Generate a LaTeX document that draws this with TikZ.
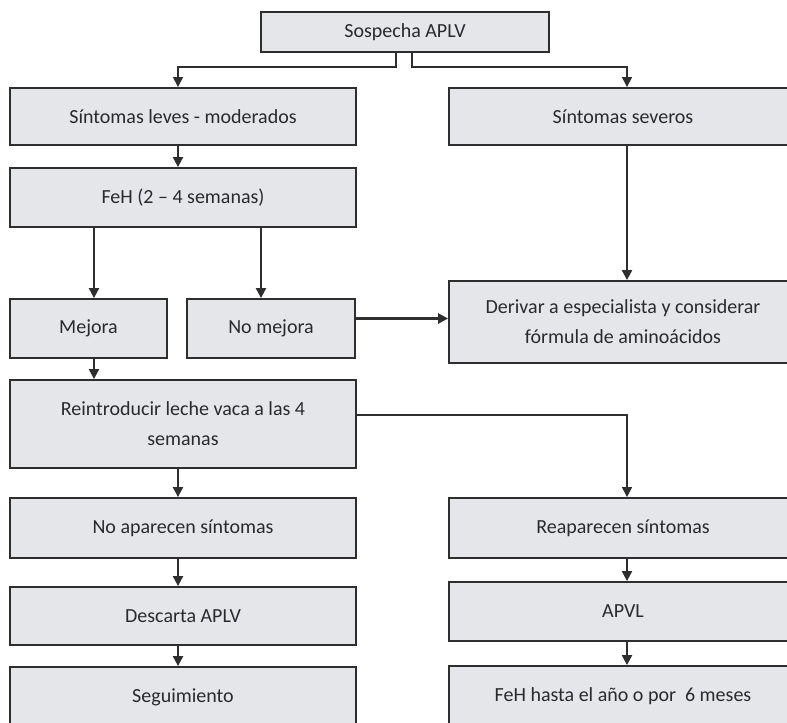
\documentclass[tikz,border=0pt]{standalone}
\usepackage{fontspec}
\setmainfont{Carlito}
\usetikzlibrary{arrows.meta,calc}
\definecolor{boxfill}{HTML}{E4E6E9}
\definecolor{boxline}{HTML}{2E2E2E}
\definecolor{txt}{HTML}{2A2A2A}
\begin{document}
\begin{tikzpicture}[x=0.75pt,y=-0.75pt,
  box/.style={draw=boxline,line width=1.4pt,fill=boxfill,text=txt,align=center,
    inner sep=0pt,font=\fontsize{15pt}{22.5pt}\selectfont},
  arr/.style={draw=boxline,line width=1.6pt,-{Triangle[length=7.5pt,width=7.5pt]}},
  thin arr/.style={draw=boxline,line width=0.9pt,-{Triangle[length=7.5pt,width=7.5pt]}}]
\useasboundingbox (0,0) rectangle (787,722);
\clip (0,0) rectangle (787,722);
\fill[white] (0,0) rectangle (787,722);
% nodes
\node[box,minimum width=288*0.75pt,minimum height=40*0.75pt] (sos) at (405,32) {Sospecha APLV};
\node[box,minimum width=346*0.75pt,minimum height=57*0.75pt] (leves) at (183,116.5) {Síntomas leves - moderados};
\node[box,minimum width=348*0.75pt,minimum height=57*0.75pt] (sev) at (623,116.5) {Síntomas severos};
\node[box,minimum width=346*0.75pt,minimum height=59*0.75pt] (feh) at (183,197.5) {FeH (2 – 4 semanas)};
\node[box,minimum width=157*0.75pt,minimum height=59*0.75pt] (mejora) at (88.5,328.5) {Mejora};
\node[box,minimum width=168*0.75pt,minimum height=59*0.75pt] (nomejora) at (271,328.5) {No mejora};
\node[box,minimum width=348*0.75pt,minimum height=82*0.75pt] (derivar) at (623,322) {Derivar a especialista y considerar\\fórmula de aminoácidos};
\node[box,minimum width=346*0.75pt,minimum height=88*0.75pt] (reint) at (183,424) {Reintroducir leche vaca a las 4\\semanas};
\node[box,minimum width=346*0.75pt,minimum height=60*0.75pt] (noapar) at (183,528) {No aparecen síntomas};
\node[box,minimum width=348*0.75pt,minimum height=60*0.75pt] (reapar) at (623,528) {Reaparecen síntomas};
\node[box,minimum width=346*0.75pt,minimum height=58*0.75pt] (descarta) at (183,616) {Descarta APLV};
\node[box,minimum width=348*0.75pt,minimum height=59*0.75pt] (apvl) at (623,611.5) {APVL};
\node[box,minimum width=346*0.75pt,minimum height=60*0.75pt] (seguim) at (183,697) {Seguimiento};
\node[box,minimum width=348*0.75pt,minimum height=60*0.75pt] (fehasta) at (623,696) {FeH hasta el año o por~ 6 meses};
% connectors
\draw[thin arr] ($(sos.south)+(-9,0)$) |- ($(leves.north)+(-5,-20)$) -- ($(leves.north)+(-5,0)$);
\draw[thin arr] ($(sos.south)+(7,0)$) |- ($(sev.north)+(4,-20)$) -- ($(sev.north)+(4,0)$);
\draw[arr] ($(leves.south)+(-5,0)$) -- ($(feh.north)+(-5,0)$);
\draw[arr] ($(feh.south -| mejora.north)+(5.5,0)$) -- ($(mejora.north)+(5.5,0)$);
\draw[arr] ($(feh.south -| nomejora.north)+(-10,0)$) -- ($(nomejora.north)+(-10,0)$);
\draw[arr] ($(sev.south)+(4,0)$) -- ($(derivar.north)+(4,0)$);
\coordinate (nm) at ($(nomejora.east)+(0,-10)$);
\draw[arr,line width=2pt] (nm) -- (nm -| derivar.west);
\draw[arr] ($(mejora.south)+(5.5,0)$) -- ($(reint.north -| mejora.north)+(5.5,0)$);
\draw[arr] ($(reint.south)+(-5,0)$) -- ($(noapar.north)+(-5,0)$);
\draw[thin arr] ($(reint.east)+(0,-9)$) -| ($(reapar.north)+(4,0)$);
\draw[arr] ($(noapar.south)+(-5,0)$) -- ($(descarta.north)+(-5,0)$);
\draw[arr] ($(descarta.south)+(-5,0)$) -- ($(seguim.north)+(-5,0)$);
\draw[arr] ($(reapar.south)+(4,0)$) -- ($(apvl.north)+(4,0)$);
\draw[arr] ($(apvl.south)+(4,0)$) -- ($(fehasta.north)+(4,0)$);
\end{tikzpicture}
\end{document}
